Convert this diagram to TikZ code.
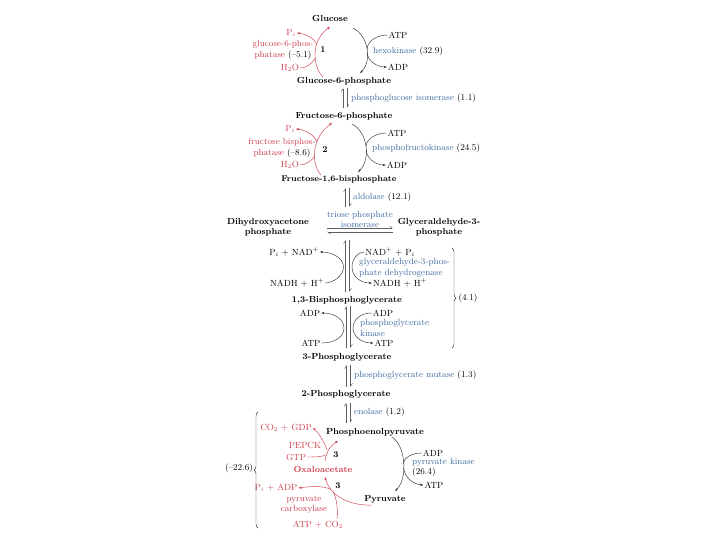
\documentclass[tikz,border=0pt]{standalone}
\usetikzlibrary{arrows.meta,decorations.pathreplacing,calc}
\definecolor{enzc}{RGB}{64,108,160}
\definecolor{redc}{RGB}{204,62,74}
\definecolor{linec}{RGB}{50,50,50}
\definecolor{revc}{RGB}{95,95,95}
\newcommand{\ez}[1]{\textcolor{enzc}{#1}}
\begin{document}
\begin{tikzpicture}[x=1pt,y=-1pt,
  cpd/.style={font=\fontsize{8.8}{10}\selectfont\bfseries, inner sep=1pt},
  txt/.style={font=\fontsize{8.9}{10.5}\selectfont, inner sep=1pt},
  rtxt/.style={txt, text=redc},
  stepnum/.style={font=\fontsize{8.8}{10}\selectfont\bfseries, inner sep=1pt},
  conn/.style={draw=linec, line width=0.45pt},
  arw/.style={conn, -{Stealth[length=3.2pt,width=2.4pt]}},
  rconn/.style={draw=redc, line width=0.45pt},
  rarw/.style={rconn, -{Stealth[length=3.2pt,width=2.4pt]}},
  rev/.style={draw=revc, line width=0.4pt, -{Straight Barb[left,length=3pt,width=4pt]}},
  brc/.style={conn, decorate, decoration={brace, amplitude=4pt}},
]
\useasboundingbox (0,0) rectangle (720,540);

% compounds
\node[cpd] (glc) at (330,18) {Glucose};
\node[cpd] (g6p) at (344,81) {Glucose-6-phosphate};
\node[cpd] (f6p) at (344,116) {Fructose-6-phosphate};
\node[cpd,font=\fontsize{8.3}{10}\selectfont\bfseries] (fbp) at (339,179) {Fructose-1,6-bisphosphate};
\node[cpd,align=center] (dhap) at (268,227) {Dihydroxyacetone\\phosphate};
\node[cpd,align=center] (gap) at (439,227) {Glyceraldehyde-3-\\phosphate};
\node[cpd] (bpg) at (347,300) {1,3-Bisphosphoglycerate};
\node[cpd] (pg3) at (347,357) {3-Phosphoglycerate};
\node[cpd] (pg2) at (346,394) {2-Phosphoglycerate};
\node[cpd] (pep) at (375,432) {Phosphoenolpyruvate};
\node[cpd] (pyr) at (385,499) {Pyruvate};
\node[cpd,text=redc] (oaa) at (323,469) {Oxaloacetate};

% step numbers
\node[stepnum] (n1) at (323,50) {1};
\node[stepnum] (n2) at (325,150) {2};
\node[stepnum] (n3a) at (336,455) {3};
\node[stepnum] (n3b) at (338,486) {3};

% enzymes
\node[txt,anchor=west] (hk) at (372,51) {\ez{hexokinase} (32.9)};
\node[rtxt,align=center] (g6pase) at (283,50) {glucose-6-phos-\\phatase \textcolor{black}{(--5.1)}};
\node[txt,anchor=west] (pgi) at (350,98) {\ez{phosphoglucose isomerase} (1.1)};
\node[txt,anchor=west] (pfk) at (371,148) {\ez{phosphofructokinase} (24.5)};
\node[rtxt,align=center] (fbpase) at (282,148) {fructose bisphos-\\phatase \textcolor{black}{(--8.6)}};
\node[txt,anchor=west] (ald) at (352,197) {\ez{aldolase} (12.1)};
\node[txt,align=center,text=enzc] (tpi) at (360,219.5) {triose phosphate\\isomerase};
\node[txt,align=left,anchor=west,text=enzc] (gapdh) at (358,268) {glyceraldehyde-3-phos-\\phate dehydrogenase};
\node[txt,align=left,anchor=west,text=enzc] (pgk) at (359,328) {phosphoglycerate\\kinase};
\node[txt,anchor=west] (pgm) at (353,375) {\ez{phosphoglycerate mutase} (1.3)};
\node[txt,anchor=west] (eno) at (353,412) {\ez{enolase} (1.2)};
\node[txt,align=left,anchor=west] (pk) at (411,467.5) {\ez{pyruvate kinase}\\(26.4)};
\node[rtxt] (pepck) at (305,445) {PEPCK};
\node[rtxt,align=center] (pc) at (304,504.5) {pyruvate\\carboxylase};
\node[txt] (e41) at (468,298) {(4.1)};
\node[txt] (e226) at (239,468) {(--22.6)};

% cofactors
\node[txt] (atp1) at (398,35) {ATP};
\node[txt] (adp1) at (398,67) {ADP};
\node[rtxt] (pi1) at (291,33) {P$_i$};
\node[rtxt] (h2o1) at (290,68) {H$_2$O};
\node[txt] (atp2) at (397,133) {ATP};
\node[txt] (adp2) at (397,165) {ADP};
\node[rtxt] (pi2) at (290,129) {P$_i$};
\node[rtxt] (h2o2) at (290,165) {H$_2$O};
\node[txt] (pinad) at (294,252) {P$_i$ + NAD$^+$};
\node[txt] (nadhl) at (297,283) {NADH + H$^+$};
\node[txt] (nadpi) at (390,252) {NAD$^+$ + P$_i$};
\node[txt] (nadhr) at (400,283) {NADH + H$^+$};
\node[txt] (adpl) at (310,313) {ADP};
\node[txt] (atpl) at (311,343) {ATP};
\node[txt] (adpr) at (383,313) {ADP};
\node[txt] (atpr) at (384,343) {ATP};
\node[txt] (adp3) at (433,453) {ADP};
\node[txt] (atp3) at (434,485) {ATP};
\node[rtxt] (co2gdp) at (286,428) {CO$_2$ + GDP};
\node[rtxt] (gtp) at (296,457) {GTP};
\node[rtxt] (piadp) at (276,488) {P$_i$ + ADP};
\node[rtxt] (atpco2) at (318,525) {ATP + CO$_2$};

% ---- step 1
\coordinate (hkA) at (353,28); \coordinate (hkB) at (360,73);
\coordinate (hkI) at (367,49); \coordinate (hkO) at (367,53);
\draw[arw] (hkA) .. controls (369,36) and (372,62) .. (hkB);
\draw[conn] (atp1.west) .. controls (378,35) and (368,40) .. (hkI);
\draw[arw] (hkO) .. controls (368,61) and (377,67) .. (adp1.west);
\coordinate (gpA) at (323,77); \coordinate (gpB) at (330,27);
\coordinate (gpO) at (317,45); \coordinate (gpI) at (315.3,58);
\draw[rarw] (gpA) .. controls (312,66) and (311,40) .. (gpB);
\draw[rarw] (gpO) .. controls (314,38) and (306,34) .. (pi1.east);
\draw[rconn] (h2o1.east) .. controls (306,68) and (312,64) .. (gpI);

% PGI
\coordinate (pgiT1) at (343,88); \coordinate (pgiB1) at (343,108);
\coordinate (pgiT2) at (347,88); \coordinate (pgiB2) at (347,108);
\draw[rev] (pgiB1) -- (pgiT1);
\draw[rev] (pgiT2) -- (pgiB2);

% ---- step 2
\coordinate (pfA) at (352,124); \coordinate (pfB) at (358,172);
\coordinate (pfI) at (366,146); \coordinate (pfO) at (366,150);
\draw[arw] (pfA) .. controls (368,132) and (371,160) .. (pfB);
\draw[conn] (atp2.west) .. controls (377,133) and (367,138) .. (pfI);
\draw[arw] (pfO) .. controls (367,159) and (376,165) .. (adp2.west);
\coordinate (fbA) at (321,175); \coordinate (fbB) at (332,123);
\coordinate (fbO) at (317.3,142); \coordinate (fbI) at (314.5,156);
\draw[rarw] (fbA) .. controls (311,164) and (311,138) .. (fbB);
\draw[rarw] (fbO) .. controls (314,135) and (306,130) .. (pi2.east);
\draw[rconn] (h2o2.east) .. controls (305,165) and (312,161) .. (fbI);

% aldolase
\coordinate (alT1) at (345.5,188); \coordinate (alB1) at (345.5,207);
\coordinate (alT2) at (349.5,188); \coordinate (alB2) at (349.5,207);
\draw[rev] (alB1) -- (alT1);
\draw[rev] (alT2) -- (alB2);

% triose phosphate isomerase
\coordinate (tpL1) at (327,228); \coordinate (tpR1) at (393,228);
\coordinate (tpL2) at (327,232); \coordinate (tpR2) at (393,232);
\draw[rev] (tpL1) -- (tpR1);
\draw[rev] (tpR2) -- (tpL2);

% GAPDH
\coordinate (gdT1) at (345.5,240); \coordinate (gdB1) at (345.5,292);
\coordinate (gdT2) at (349.5,240); \coordinate (gdB2) at (349.5,292);
\draw[rev] (gdB1) -- (gdT1);
\draw[rev] (gdT2) -- (gdB2);
\draw[arw] (nadhl.east) .. controls (333,283) and (343.5,276) .. (343.5,267)
  .. controls (343.5,258) and (332,252) .. (pinad.east);
\draw[arw] (nadpi.west) .. controls (358,252) and (352,259) .. (352,267)
  .. controls (352,276) and (360,283) .. (nadhr.west);

% PGK
\coordinate (gkT1) at (346.5,306); \coordinate (gkB1) at (346.5,348);
\coordinate (gkT2) at (350.5,306); \coordinate (gkB2) at (350.5,348);
\draw[rev] (gkB1) -- (gkT1);
\draw[rev] (gkT2) -- (gkB2);
\draw[arw] (atpl.east) .. controls (336,343) and (344,336) .. (344,328)
  .. controls (344,319) and (334,313) .. (adpl.east);
\draw[arw] (adpr.west) .. controls (360,313) and (353,320) .. (353,328)
  .. controls (353,336) and (361,343) .. (atpr.west);

% PGM
\coordinate (pmT1) at (346.5,365); \coordinate (pmB1) at (346.5,387);
\coordinate (pmT2) at (350.5,365); \coordinate (pmB2) at (350.5,387);
\draw[rev] (pmB1) -- (pmT1);
\draw[rev] (pmT2) -- (pmB2);

% enolase
\coordinate (enT1) at (346,403); \coordinate (enB1) at (346,423);
\coordinate (enT2) at (350,403); \coordinate (enB2) at (350,423);
\draw[rev] (enB1) -- (enT1);
\draw[rev] (enT2) -- (enB2);

% pyruvate kinase
\coordinate (pkA) at (392,437); \coordinate (pkB) at (395,491);
\coordinate (pkI) at (403,464); \coordinate (pkO) at (403.5,468);
\draw[arw] (pkA) .. controls (406,446) and (408,479) .. (pkB);
\draw[conn] (adp3.west) .. controls (411,453) and (404,458) .. (pkI);
\draw[arw] (pkO) .. controls (405,477) and (412,484) .. (atp3.west);

% PEPCK
\coordinate (ckA) at (325,461); \coordinate (ckB) at (338,441);
\coordinate (ckI) at (325.5,455); \coordinate (ckO) at (327,450);
\draw[rarw] (ckA) .. controls (326,452) and (331,445) .. (ckB);
\draw[rconn] (gtp.east) .. controls (314,457) and (322,457) .. (ckI);
\draw[rarw] (ckO) .. controls (324,441) and (318,432) .. (co2gdp.east);

% pyruvate carboxylase
\coordinate (pcA) at (372,505); \coordinate (pcB) at (325,477);
\coordinate (pcO) at (331,489.5); \coordinate (pcI) at (333.2,491.6);
\coordinate (pcS) at (337,519);
\draw[rarw] (pcA) .. controls (350,506) and (330,496) .. (pcB);
\draw[rarw] (pcO) .. controls (325,486) and (312,486) .. (piadp.east);
\draw[rconn] (pcS) .. controls (338,510) and (337,500) .. (pcI);

% braces
\coordinate (b41T) at (452,248); \coordinate (b41B) at (452,348);
\coordinate (b22T) at (258,412); \coordinate (b22B) at (258,528);
\draw[brc] (b41T) -- (b41B);
\draw[brc] (b22B) -- (b22T);
\end{tikzpicture}
\end{document}
